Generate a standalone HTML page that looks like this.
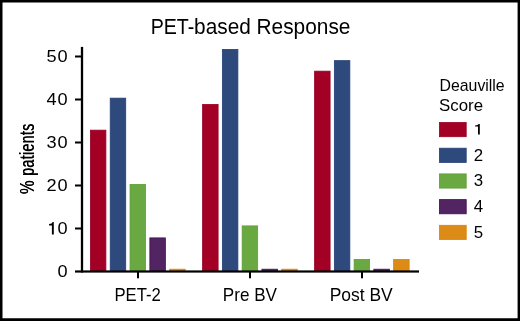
<!DOCTYPE html>
<html>
<head>
<meta charset="utf-8">
<title>PET-based Response</title>
<style>
html,body{margin:0;padding:0;background:#fff;}
body{width:520px;height:321px;overflow:hidden;font-family:"Liberation Sans",sans-serif;}
svg{display:block;will-change:transform;}
text{font-family:"Liberation Sans",sans-serif;fill:#000;}
</style>
</head>
<body>
<svg width="520" height="321" viewBox="0 0 520 321">
  <rect x="0" y="0" width="520" height="321" fill="#fff"/>
  <!-- outer border -->
  <path d="M0 0H520V321H0Z M2.5 2.5V318.2H517.6V2.5Z" fill="#000" fill-rule="evenodd"/>

  <!-- title -->
  <g font-size="21.2">
    <text x="150.7" y="34.2" textLength="43.6" lengthAdjust="spacingAndGlyphs">PET-</text>
    <text x="194.1" y="34.2" textLength="56.7" lengthAdjust="spacingAndGlyphs">based</text>
    <text x="256.5" y="34.2" textLength="93.9" lengthAdjust="spacingAndGlyphs">Response</text>
  </g>

  <!-- bars -->
  <g>
    <rect x="90.40" y="130.15" width="15.50" height="141.35" fill="#A30026" stroke="#9A0022" stroke-width="0.8"/>
    <rect x="110.22" y="98.15" width="15.50" height="173.35" fill="#2E4A7C" stroke="#233F77" stroke-width="0.8"/>
    <rect x="130.04" y="184.40" width="15.50" height="87.10" fill="#6AA842" stroke="#5E9E36" stroke-width="0.8"/>
    <rect x="149.86" y="237.90" width="15.50" height="33.60" fill="#522562" stroke="#420D57" stroke-width="0.8"/>
    <rect x="169.68" y="269.20" width="15.50" height="2.30" fill="#DB8B16" stroke="#DC8305" stroke-width="0.8"/>
    <rect x="202.60" y="104.40" width="15.50" height="167.10" fill="#A30026" stroke="#9A0022" stroke-width="0.8"/>
    <rect x="222.38" y="49.40" width="15.50" height="222.10" fill="#2E4A7C" stroke="#233F77" stroke-width="0.8"/>
    <rect x="242.16" y="225.90" width="15.50" height="45.60" fill="#6AA842" stroke="#5E9E36" stroke-width="0.8"/>
    <rect x="261.94" y="269.20" width="15.50" height="2.30" fill="#522562" stroke="#420D57" stroke-width="0.8"/>
    <rect x="281.72" y="269.20" width="15.50" height="2.30" fill="#DB8B16" stroke="#DC8305" stroke-width="0.8"/>
    <rect x="314.60" y="71.15" width="15.50" height="200.35" fill="#A30026" stroke="#9A0022" stroke-width="0.8"/>
    <rect x="334.36" y="60.65" width="15.50" height="210.85" fill="#2E4A7C" stroke="#233F77" stroke-width="0.8"/>
    <rect x="354.12" y="259.40" width="15.50" height="12.10" fill="#6AA842" stroke="#5E9E36" stroke-width="0.8"/>
    <rect x="373.88" y="269.20" width="15.50" height="2.30" fill="#522562" stroke="#420D57" stroke-width="0.8"/>
    <rect x="393.64" y="259.40" width="15.50" height="12.10" fill="#DB8B16" stroke="#DC8305" stroke-width="0.8"/>
  </g>

  <!-- axes -->
  <g fill="#000">
    <rect x="80.85" y="46.9" width="2.3" height="225.6"/>
    <rect x="75" y="270.4" width="344" height="2.2"/>
    <rect x="75" y="55.50" width="6.5" height="2"/>
    <rect x="75" y="98.50" width="6.5" height="2"/>
    <rect x="75" y="141.50" width="6.5" height="2"/>
    <rect x="75" y="184.50" width="6.5" height="2"/>
    <rect x="75" y="227.50" width="6.5" height="2"/>
    <rect x="137" y="272" width="2" height="6.3"/>
    <rect x="249" y="272" width="2" height="6.3"/>
    <rect x="361" y="272" width="2" height="6.3"/>
  </g>

  <!-- y tick labels -->
  <g font-size="17.3" text-anchor="end" letter-spacing="0.95">
    <text x="68.6" y="62.35" transform="translate(68.3 0) scale(1.05 1) translate(-68.3 0)">50</text>
    <text x="68.6" y="105.35" transform="translate(68.3 0) scale(1.05 1) translate(-68.3 0)">40</text>
    <text x="68.6" y="148.35" transform="translate(68.3 0) scale(1.05 1) translate(-68.3 0)">30</text>
    <text x="68.6" y="191.35" transform="translate(68.3 0) scale(1.05 1) translate(-68.3 0)">20</text>
    <text x="68.6" y="234.35" transform="translate(68.3 0) scale(1.05 1) translate(-68.3 0)">0</text>
    <text x="68.6" y="277.35" transform="translate(68.3 0) scale(1.05 1) translate(-68.3 0)">0</text>
  </g>
  <path d="M53.8 222.1V234.4H51.9V225.4H49.1V223.9C51 223.9 52.3 223.4 52.6 222.1Z" fill="#000"/>

  <!-- x labels -->
  <g font-size="17.8">
    <text transform="translate(114.4 300.8) scale(0.938 1)">PET-2</text>
    <text transform="translate(222.8 300.8) scale(0.9605 1)">Pre BV</text>
    <text transform="translate(329.65 300.8) scale(0.983 1)">Post BV</text>
  </g>

  <!-- y axis label -->
  <g font-size="20">
    <g transform="translate(33.7 194.1) rotate(-90) scale(0.77 1)"><text x="-0.15">%</text><text x="0.15">%</text></g>
    <g transform="translate(33.7 175.8) rotate(-90) scale(0.70 1)" letter-spacing="0.63"><text x="-0.35">patients</text><text x="0.35">patients</text></g>
  </g>

  <!-- legend -->
  <g font-size="15.9">
    <text x="439.5" y="90.7" textLength="65.2" lengthAdjust="spacingAndGlyphs">Deauville</text>
    <text x="439" y="110.9" textLength="44" lengthAdjust="spacingAndGlyphs">Score</text>
  </g>
  <g>
    <rect x="439.4" y="122.50" width="26.8" height="14.2" fill="#A30026" stroke="#9A0022" stroke-width="0.8"/>
    <rect x="439.4" y="148.20" width="26.8" height="14.2" fill="#2E4A7C" stroke="#233F77" stroke-width="0.8"/>
    <rect x="439.4" y="173.90" width="26.8" height="14.2" fill="#6AA842" stroke="#5E9E36" stroke-width="0.8"/>
    <rect x="439.4" y="199.60" width="26.8" height="14.2" fill="#522562" stroke="#420D57" stroke-width="0.8"/>
    <rect x="439.4" y="225.30" width="26.8" height="14.2" fill="#DB8B16" stroke="#DC8305" stroke-width="0.8"/>
  </g>
  <path d="M479.8 124V134.6H478V126.6H475.1V125.4C477 125.4 478.3 124.9 478.6 124Z" fill="#000"/>
  <g font-size="15.6" transform="translate(473.7 0) scale(1.08 1)">
    <text x="0" y="160.6">2</text>
    <text x="0" y="186.3">3</text>
    <text x="0" y="212">4</text>
    <text x="0" y="237.7">5</text>
  </g>
</svg>
</body>
</html>
